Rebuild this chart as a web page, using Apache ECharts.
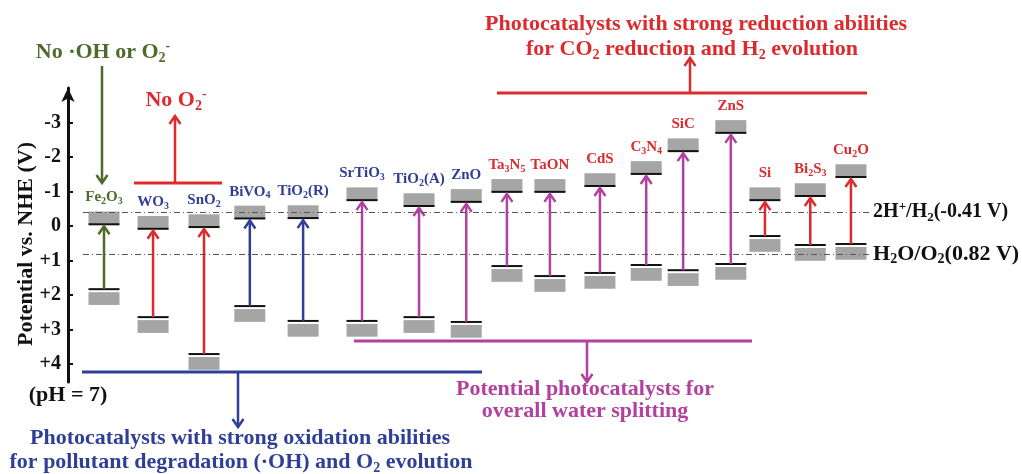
<!DOCTYPE html>
<html lang="en">
<head>
<meta charset="UTF-8">
<title>Band edge positions</title>
<script src="https://cdn.jsdelivr.net/npm/echarts@6/dist/echarts.min.js"></script>
<style>html,body{margin:0;padding:0;background:#fff;}</style>
</head>
<body>
<div id="main" style="width:1022px;height:474px;"></div>
<script>
// semiconductors, left to right
var materials = ['Fe2O3', 'WO3', 'SnO2', 'BiVO4', 'TiO2(R)', 'SrTiO3', 'TiO2(A)', 'ZnO', 'Ta3N5',
    'TaON', 'CdS', 'C3N4', 'SiC', 'ZnS', 'Si', 'Bi2S3', 'Cu2O'];
var labels = ['Fe{s|2}O{s|3}', 'WO{s|3}', 'SnO{s|2}', 'BiVO{s|4}', 'TiO{s|2}(R)', 'SrTiO{s|3}', 'TiO{s|2}(A)',
    'ZnO', 'Ta{s|3}N{s|5}', 'TaON', 'CdS', 'C{s|3}N{s|4}', 'SiC', 'ZnS', 'Si', 'Bi{s|2}S{s|3}', 'Cu{s|2}O'];
// place of each material along the (hidden) x axis
var slots = [0.77, 1.82, 2.91, 3.89, 5.03, 6.29, 7.51, 8.52, 9.39, 10.31, 11.38, 12.37, 13.16, 14.18, 14.91, 15.88, 16.75];
// band edges, V vs NHE (pH 7)
var cbEdge = [-0.05, 0.08, 0.03, -0.22, -0.23, -0.75, -0.58, -0.70, -0.99, -0.99, -1.16, -1.51, -2.17, -2.70, -0.75, -0.87, -1.42];
var vbEdge = [1.83, 2.64, 3.71, 2.32, 2.75, 2.75, 2.64, 2.78, 1.16, 1.45, 1.36, 1.13, 1.28, 1.10, 0.29, 0.55, 0.52];
var groups = ['noRadical', 'noSuperoxide', 'noSuperoxide', 'oxidation', 'oxidation', 'waterOx', 'waterOx', 'waterOx',
    'waterRed', 'waterRed', 'waterRed', 'waterRed', 'waterRed', 'waterRed', 'reduction', 'reduction', 'reduction'];
var yTicks = [-3, -2, -1, 0, 1, 2, 3, 4];
var refLevels = [-0.41, 0.82];
var refLabels = ['2H{sup|+}/H{sub|2}(-0.41 V)', '{big|H}{bsub|2}{big|O/O}{bsub|2}{big|(0.82 V)}'];

var GREEN = '#4e6a2c', BLUE = '#2f3f98', RED = '#dc2a2d', PURPLE = '#b2409e';
var groupStyle = {
    noRadical: { label: GREEN, arrow: GREEN },
    noSuperoxide: { label: BLUE, arrow: RED },
    oxidation: { label: BLUE, arrow: BLUE },
    waterOx: { label: BLUE, arrow: PURPLE },
    waterRed: { label: RED, arrow: PURPLE },
    reduction: { label: RED, arrow: RED }
};
var SERIF = '"Liberation Serif", "Times New Roman", serif';

var chart = echarts.init(document.getElementById('main'));

function renderBand(params, api) {
    var i = api.value(3);
    var x = api.value(0);
    var pc = api.coord([x, api.value(1)]);
    var pv = api.coord([x, api.value(2)]);
    var w = 31, bh = api.size([0, 0.37])[1];
    var st = groupStyle[groups[i]];
    var tip = pc[1] + 2;
    return {
        type: 'group',
        children: [
            { type: 'rect', shape: { x: pc[0] - w / 2, y: pc[1] - bh, width: w, height: bh }, style: { fill: '#a5a5a5' } },
            { type: 'line', shape: { x1: pc[0] - w / 2, y1: pc[1], x2: pc[0] + w / 2, y2: pc[1] }, style: { stroke: '#111', lineWidth: 2 } },
            { type: 'rect', shape: { x: pv[0] - w / 2, y: pv[1] + 3, width: w, height: bh }, style: { fill: '#a5a5a5' } },
            { type: 'line', shape: { x1: pv[0] - w / 2, y1: pv[1], x2: pv[0] + w / 2, y2: pv[1] }, style: { stroke: '#111', lineWidth: 2 } },
            { type: 'line', shape: { x1: pv[0], y1: pv[1], x2: pc[0], y2: tip }, style: { stroke: st.arrow, lineWidth: 2.5 } },
            { type: 'polyline', shape: { points: [[pc[0] - 5.5, tip + 8], [pc[0], tip], [pc[0] + 5.5, tip + 8]] },
              style: { stroke: st.arrow, lineWidth: 2.5, fill: null } },
            { type: 'text', x: pc[0], y: pc[1] - bh - 5,
              style: { text: labels[i], align: 'center', verticalAlign: 'bottom', fill: st.label,
                  fontFamily: SERIF, fontWeight: 'bold', fontSize: 15, lineHeight: 18,
                  rich: { s: { fontSize: 10, lineHeight: 10, verticalAlign: 'bottom', fontFamily: SERIF, fontWeight: 'bold', fill: st.label } } } }
        ]
    };
}

// helpers for the annotation brackets
function arrowLine(x1, y1, x2, y2, color) {
    var dy = y2 > y1 ? -8 : 8;
    return [
        { type: 'line', shape: { x1: x1, y1: y1, x2: x2, y2: y2 }, style: { stroke: color, lineWidth: 2.5 } },
        { type: 'polyline', shape: { points: [[x2 - 5.5, y2 + dy], [x2, y2], [x2 + 5.5, y2 + dy]] }, style: { stroke: color, lineWidth: 2.5, fill: null } }
    ];
}
function bar(x1, x2, y, color) {
    return { type: 'line', shape: { x1: x1, y1: y, x2: x2, y2: y }, style: { stroke: color, lineWidth: 3 } };
}
function note(text, x, y, color, size) {
    size = size || 22;
    return {
        type: 'text', x: x, y: y,
        style: {
            text: text, align: 'center', verticalAlign: 'middle', fill: color,
            fontFamily: SERIF, fontWeight: 'bold', fontSize: size, lineHeight: size + 4,
            rich: {
                sub: { fontSize: 14, lineHeight: 14, verticalAlign: 'bottom', fill: color, fontFamily: SERIF, fontWeight: 'bold' },
                sup: { fontSize: 14, lineHeight: 14, verticalAlign: 'top', fill: color, fontFamily: SERIF, fontWeight: 'bold' }
            }
        }
    };
}

var graphics = [].concat(
    [note('No ·OH or O{sub|2}{sup|-}', 103, 52, GREEN)],
    arrowLine(102, 66, 102, 183, GREEN),
    [note('No O{sub|2}{sup|-}', 176, 100, RED), bar(134, 222, 183, RED)],
    arrowLine(175, 183, 175, 116, RED),
    [note('Photocatalysts with strong reduction abilities', 696, 24, RED),
     note('for CO{sub|2} reduction and H{sub|2} evolution', 692, 49, RED),
     bar(497, 867, 93, RED)],
    arrowLine(690, 93, 690, 58, RED),
    [bar(354, 752, 341, PURPLE)],
    arrowLine(587, 341, 587, 382, PURPLE),
    [note('Potential photocatalysts for', 585, 389, PURPLE),
     note('overall water splitting', 585, 411, PURPLE),
     bar(82, 482, 372, BLUE)],
    arrowLine(238, 372, 238, 427, BLUE),
    [note('Photocatalysts with strong oxidation abilities', 240, 438, BLUE),
     note('for pollutant degradation (·OH) and O{sub|2} evolution', 241, 462, BLUE),
     note('(pH = 7)', 68, 395, '#111'),
     { type: 'text', x: 26, y: 244, rotation: Math.PI / 2,
       style: { text: 'Potential vs. NHE (V)', align: 'center', verticalAlign: 'middle', fill: '#111',
           fontFamily: SERIF, fontWeight: 'bold', fontSize: 22 } }]
);

var option = {
    animation: false,
    backgroundColor: '#fff',
    grid: { left: 68, width: 818, top: 88, bottom: 92, containLabel: false },
    xAxis: { type: 'value', min: 0, max: 17.5, show: false },
    yAxis: {
        type: 'value', inverse: true, min: -4, max: 4.52,
        axisLine: { show: true, symbol: ['none', 'arrow'], symbolSize: [10, 14], lineStyle: { color: '#111', width: 3 } },
        axisTick: { show: true, inside: true, length: 5, customValues: yTicks, lineStyle: { color: '#111', width: 2 } },
        axisLabel: {
            customValues: yTicks, margin: 7, color: '#111', fontFamily: SERIF, fontWeight: 'bold', fontSize: 20,
            formatter: function (v) { return v > 0 ? '+' + v : String(v); }
        },
        splitLine: { show: false }
    },
    graphic: graphics,
    series: [{
        type: 'custom',
        renderItem: renderBand,
        clip: false,
        encode: { x: 0, y: [1, 2] },
        data: materials.map(function (m, i) { return [slots[i], cbEdge[i], vbEdge[i], i]; }),
        markLine: {
            silent: true, symbol: 'none',
            lineStyle: { type: [6, 3, 1, 3], color: '#555', width: 1 },
            label: {
                show: true, position: 'end', distance: 3, color: '#111',
                fontFamily: SERIF, fontWeight: 'bold', fontSize: 20, lineHeight: 24,
                formatter: function (p) { return refLabels[p.dataIndex]; },
                rich: {
                    sub: { fontSize: 13, lineHeight: 13, verticalAlign: 'bottom', fontFamily: SERIF, fontWeight: 'bold', color: '#111' },
                    sup: { fontSize: 13, lineHeight: 13, verticalAlign: 'top', fontFamily: SERIF, fontWeight: 'bold', color: '#111' },
                    big: { fontSize: 22, lineHeight: 24, fontFamily: SERIF, fontWeight: 'bold', color: '#111' },
                    bsub: { fontSize: 14, lineHeight: 14, verticalAlign: 'bottom', fontFamily: SERIF, fontWeight: 'bold', color: '#111' }
                }
            },
            data: refLevels.map(function (v) { return [{ coord: [0.32, v] }, { coord: [17.16, v] }]; })
        }
    }]
};

chart.setOption(option);
</script>
</body>
</html>
